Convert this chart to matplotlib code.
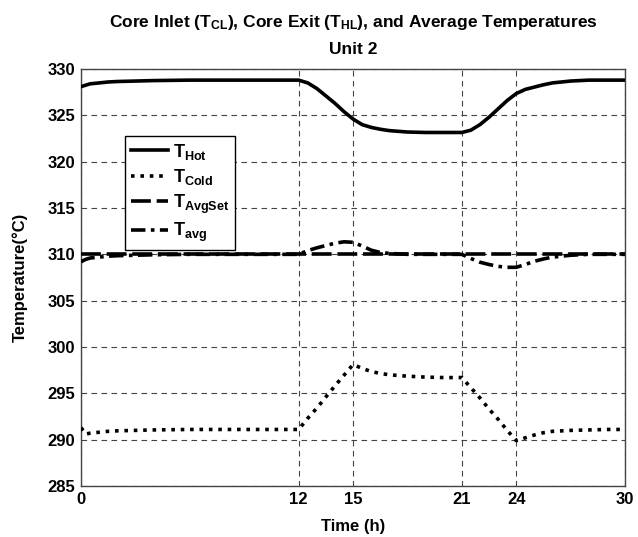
import matplotlib
matplotlib.use("Agg")
import matplotlib.pyplot as plt

plt.rcParams['font.family'] = ['Liberation Sans', 'DejaVu Sans']
plt.rcParams['font.weight'] = 'bold'
plt.rcParams['mathtext.fontset'] = 'custom'
plt.rcParams['mathtext.rm'] = 'Liberation Sans:bold'
plt.rcParams['mathtext.it'] = 'Liberation Sans:bold'
plt.rcParams['mathtext.bf'] = 'Liberation Sans:bold'
plt.rcParams['mathtext.default'] = 'rm'

# time in hours
t = [0, 0.25, 0.5, 1, 1.5, 2, 3, 4, 6, 8, 10, 12, 12.5, 13, 13.5, 14, 14.5, 15,
     15.5, 16, 16.5, 17, 18, 19, 20, 21, 21.5, 22, 22.5, 23, 23.5, 24, 24.5, 25,
     25.5, 26, 27, 28, 29, 30]

t_hot = [328.1, 328.25, 328.4, 328.5, 328.6, 328.65, 328.7, 328.75, 328.8, 328.8,
         328.8, 328.8, 328.5, 327.9, 327.1, 326.3, 325.4, 324.6, 324.0, 323.7,
         323.5, 323.35, 323.2, 323.15, 323.15, 323.15, 323.4, 324.0, 324.8, 325.7,
         326.6, 327.35, 327.8, 328.05, 328.3, 328.5, 328.7, 328.8, 328.8, 328.8]

t_cold = [291.3, 290.6, 290.7, 290.8, 290.9, 290.95, 291.0, 291.05, 291.1, 291.1,
          291.1, 291.1, 292.3, 293.4, 294.6, 295.8, 296.95, 298.1, 297.7, 297.35,
          297.15, 297.0, 296.85, 296.75, 296.7, 296.7, 295.6, 294.5, 293.3, 292.2,
          291.0, 289.9, 290.2, 290.5, 290.75, 290.9, 291.0, 291.05, 291.1, 291.1]

t_avgset = [310.0] * len(t)

t_avg = [309.2, 309.45, 309.6, 309.7, 309.8, 309.85, 309.9, 309.95, 310.0, 310.0,
         310.0, 310.0, 310.4, 310.7, 310.95, 311.2, 311.35, 311.3, 310.9, 310.45,
         310.2, 310.1, 310.0, 310.0, 310.0, 310.0, 309.55, 309.15, 308.9, 308.7,
         308.6, 308.6, 308.9, 309.25, 309.5, 309.7, 309.9, 310.0, 310.0, 310.0]

xticks = [0, 12, 15, 21, 24, 30]
yticks = list(range(285, 331, 5))

fig = plt.figure(figsize=(6.38, 5.37), dpi=100)
ax = fig.add_axes([0.127, 0.095, 0.8527, 0.7765])

lw = 2.6
ax.plot(t, t_hot, color='black', lw=lw, linestyle='-', label='T$_{Hot}$', zorder=3)
ax.plot(t, t_cold, color='black', lw=lw, linestyle=(0, (1, 1.6)), label='T$_{Cold}$', zorder=3)
ax.plot(t, t_avgset, color='black', lw=lw, linestyle=(0, (5.5, 1.6)), label='T$_{AvgSet}$', zorder=3)
ax.plot(t, t_avg, color='black', lw=lw, linestyle=(0, (4, 1.5, 1, 1.5)), label='T$_{avg}$', zorder=3)

ax.set_xlim(0, 30)
ax.set_ylim(285, 330)
ax.set_xticks(xticks)
ax.set_yticks(yticks)
ax.tick_params(length=0, labelsize=12, pad=4)
ax.grid(True, color='#444444', linestyle=(0, (5, 4)), linewidth=0.8, zorder=1)
for s in ax.spines.values():
    s.set_color('#444444')
    s.set_linewidth(1.0)

ax.set_xlabel('Time (h)', fontsize=12, fontweight='bold', labelpad=9)
ax.set_ylabel('Temperature(°C)', fontsize=12, fontweight='bold', labelpad=14)
ax.set_title('Core Inlet (T$_{CL}$), Core Exit (T$_{HL}$), and Average Temperatures\nUnit 2',
             fontsize=12.5, fontweight='bold', pad=11, linespacing=1.8)

leg = ax.legend(loc='upper left', bbox_to_anchor=(0.081, 0.839), borderaxespad=0,
                fontsize=13, fancybox=False, edgecolor='black', framealpha=1,
                handlelength=2.05, handletextpad=0.3, labelspacing=0.3,
                borderpad=0.3)
leg.get_frame().set_linewidth(1.0)

fig.savefig('out.png', dpi=100)
